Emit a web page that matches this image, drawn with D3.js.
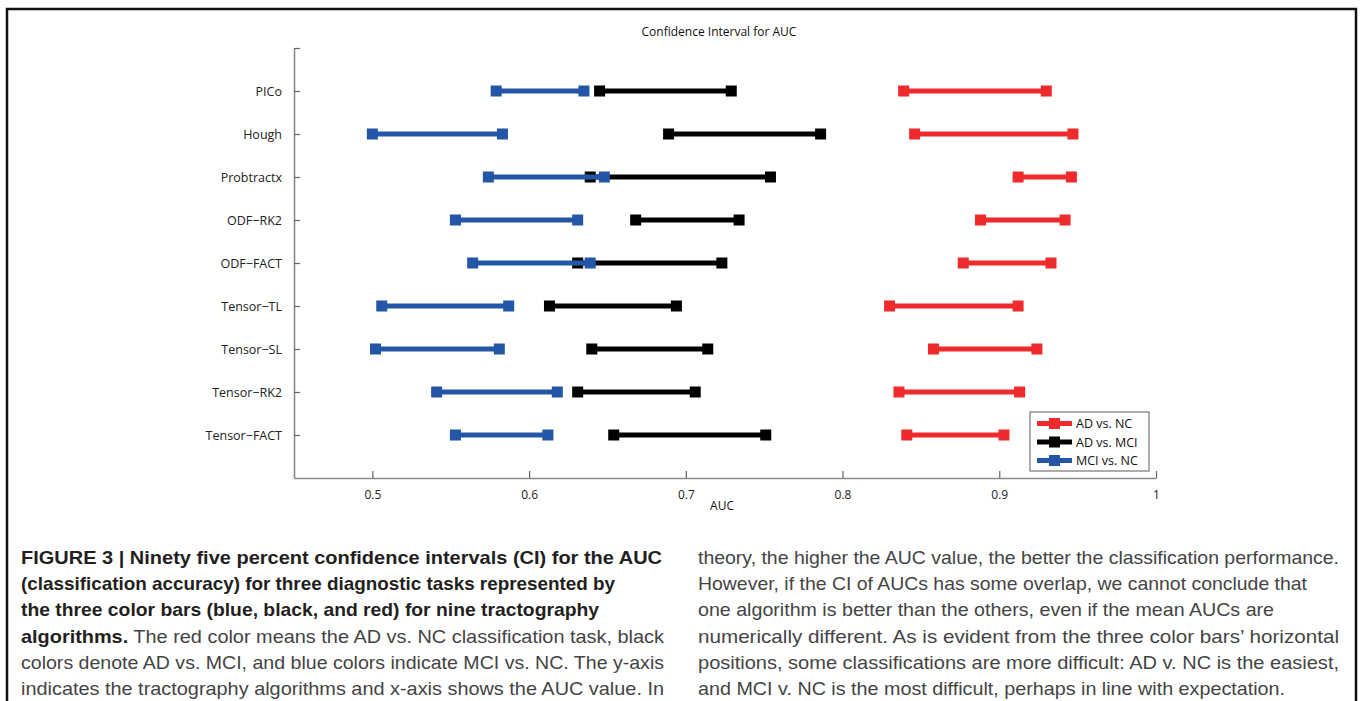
<!DOCTYPE html>
<html>
<head>
<meta charset="utf-8">
<script src="https://cdn.jsdelivr.net/npm/d3@7"></script>
<style>
  body { margin: 0; background: #fff; }
  svg { display: block; }
</style>
</head>
<body>
<div id="chart"></div>
<script>
// tractography algorithms, top to bottom
const algorithms = ["PICo", "Hough", "Probtractx", "ODF\u2212RK2", "ODF\u2212FACT",
  "Tensor\u2212TL", "Tensor\u2212SL", "Tensor\u2212RK2", "Tensor\u2212FACT"];

// 95% CI bounds of the AUC
const adNcLow   = [0.839, 0.846, 0.912, 0.888, 0.877, 0.830, 0.858, 0.836, 0.841];
const adNcHigh  = [0.930, 0.947, 0.946, 0.942, 0.933, 0.912, 0.924, 0.913, 0.903];
const adMciLow  = [0.645, 0.689, 0.639, 0.668, 0.631, 0.613, 0.640, 0.631, 0.654];
const adMciHigh = [0.729, 0.786, 0.754, 0.734, 0.723, 0.694, 0.714, 0.706, 0.751];
const mciNcLow  = [0.579, 0.500, 0.574, 0.553, 0.564, 0.506, 0.502, 0.541, 0.553];
const mciNcHigh = [0.635, 0.583, 0.648, 0.631, 0.639, 0.587, 0.581, 0.618, 0.612];

const xTicks = [0.5, 0.6, 0.7, 0.8, 0.9, 1];
const seriesNames = ["AD vs. NC", "AD vs. MCI", "MCI vs. NC"];
const seriesColors = ["#ee2a2c", "#000000", "#2356a6"];

const W = 1360, H = 701;
const svg = d3.select("#chart").append("svg")
    .attr("width", W)
    .attr("height", H);

// page frame
svg.append("rect")
    .attr("x", 7).attr("y", 9)
    .attr("width", 1349).attr("height", 760)
    .attr("fill", "none")
    .attr("stroke", "#111")
    .attr("stroke-width", 2.5);

const x = d3.scaleLinear().domain([0.45, 1]).range([294, 1156]);
const y = d3.scaleLinear().domain([0, 10]).range([48, 478]);

const axisFont = "'Open Sans', 'Noto Sans', sans-serif";

// x axis (ticks point inwards, matlab style)
const xAxis = svg.append("g")
    .attr("transform", `translate(0,${y(10)})`)
    .call(d3.axisBottom(x).tickValues(xTicks).tickSizeInner(-7).tickSizeOuter(0)
      .tickFormat(d => d === 1 ? "1" : d3.format(".1f")(d)));
xAxis.select(".domain").attr("stroke", "#8a8a8a").attr("stroke-width", 1.6);
xAxis.selectAll(".tick line").attr("stroke", "#666").attr("stroke-width", 1.2);
xAxis.selectAll(".tick text")
    .attr("y", 12)
    .attr("font-family", axisFont)
    .attr("font-size", 12)
    .attr("fill", "#222");

// y axis
const yAxis = svg.append("g")
    .attr("transform", `translate(${x(0.45)},0)`)
    .call(d3.axisLeft(y).tickValues(d3.range(0, 10)).tickSizeInner(-6).tickSizeOuter(0)
      .tickFormat(d => d === 0 ? "" : algorithms[d - 1]));
yAxis.select(".domain").attr("stroke", "#8a8a8a").attr("stroke-width", 1.6);
yAxis.selectAll(".tick line").attr("stroke", "#666").attr("stroke-width", 1.2);
yAxis.selectAll(".tick text")
    .attr("x", -12)
    .attr("font-family", axisFont)
    .attr("font-size", 12.5)
    .attr("fill", "#222");

// title and axis label
svg.append("text")
    .attr("x", 719).attr("y", 36)
    .attr("text-anchor", "middle")
    .attr("font-family", axisFont)
    .attr("font-size", 12)
    .attr("fill", "#111")
    .text("Confidence Interval for AUC");

svg.append("text")
    .attr("x", 722).attr("y", 510)
    .attr("text-anchor", "middle")
    .attr("font-family", axisFont)
    .attr("font-size", 12)
    .attr("fill", "#111")
    .text("AUC");

// intervals: red, then black, then blue on top
const series = [
  {lo: adNcLow, hi: adNcHigh},
  {lo: adMciLow, hi: adMciHigh},
  {lo: mciNcLow, hi: mciNcHigh}
];
const ms = 11;

series.forEach(function (s, si) {
  const g = svg.append("g");
  const rows = algorithms.map((a, i) => ({i: i + 1, lo: s.lo[i], hi: s.hi[i]}));
  g.selectAll("line")
    .data(rows)
    .join("line")
    .attr("x1", d => x(d.lo))
    .attr("x2", d => x(d.hi))
    .attr("y1", d => y(d.i))
    .attr("y2", d => y(d.i))
    .attr("stroke", seriesColors[si])
    .attr("stroke-width", 5);
  const ends = rows.flatMap(d => [{i: d.i, v: d.lo}, {i: d.i, v: d.hi}]);
  g.selectAll("rect")
    .data(ends)
    .join("rect")
    .attr("x", d => x(d.v) - ms / 2)
    .attr("y", d => y(d.i) - ms / 2)
    .attr("width", ms)
    .attr("height", ms)
    .attr("fill", seriesColors[si]);
});

// legend
const lg = svg.append("g").attr("transform", "translate(1030,412)");
lg.append("rect")
    .attr("width", 119).attr("height", 59)
    .attr("fill", "#fff")
    .attr("stroke", "#777")
    .attr("stroke-width", 1.2);
seriesNames.forEach(function (name, i) {
  const yy = 11.5 + i * 18.5;
  lg.append("line")
    .attr("x1", 7).attr("x2", 42)
    .attr("y1", yy).attr("y2", yy)
    .attr("stroke", seriesColors[i])
    .attr("stroke-width", 5);
  lg.append("rect")
    .attr("x", 24.5 - ms / 2).attr("y", yy - ms / 2)
    .attr("width", ms).attr("height", ms)
    .attr("fill", seriesColors[i]);
  lg.append("text")
    .attr("x", 46).attr("y", yy + 4.5)
    .attr("font-family", axisFont)
    .attr("font-size", 12.5)
    .attr("fill", "#111")
    .text(name);
});

// caption below the figure
const capFont = "'Liberation Sans', Arial, sans-serif";
const leftLines = [
  {bold: "FIGURE 3 | Ninety five percent confidence intervals (CI) for the AUC", rest: "", w: 641},
  {bold: "(classification accuracy) for three diagnostic tasks represented by", rest: "", w: 594},
  {bold: "the three color bars (blue, black, and red) for nine tractography", rest: "", w: 578},
  {bold: "algorithms.", rest: " The red color means the AD vs. NC classification task, black", w: 643},
  {bold: "", rest: "colors denote AD vs. MCI, and blue colors indicate MCI vs. NC. The y-axis", w: 643},
  {bold: "", rest: "indicates the tractography algorithms and x-axis shows the AUC value. In", w: 643}
];
const rightLines = [
  {text: "theory, the higher the AUC value, the better the classification performance.", w: 641},
  {text: "However, if the CI of AUCs has some overlap, we cannot conclude that", w: 609},
  {text: "one algorithm is better than the others, even if the mean AUCs are", w: 576},
  {text: "numerically different. As is evident from the three color bars\u2019 horizontal", w: 641},
  {text: "positions, some classifications are more difficult: AD v. NC is the easiest,", w: 641},
  {text: "and MCI v. NC is the most difficult, perhaps in line with expectation.", w: 587}
];

leftLines.forEach(function (l, i) {
  const t = svg.append("text")
      .attr("x", 21).attr("y", 564 + i * 26.2)
      .attr("font-family", capFont)
      .attr("font-size", 18.5)
      .attr("textLength", l.w)
      .attr("lengthAdjust", "spacingAndGlyphs");
  if (l.bold) t.append("tspan").attr("font-weight", "bold").attr("fill", "#231f20").text(l.bold);
  if (l.rest) t.append("tspan").attr("fill", "#444").text(l.rest);
});

rightLines.forEach(function (l, i) {
  svg.append("text")
      .attr("x", 698).attr("y", 564 + i * 26.2)
      .attr("font-family", capFont)
      .attr("font-size", 18.5)
      .attr("fill", "#444")
      .attr("textLength", l.w)
      .attr("lengthAdjust", "spacingAndGlyphs")
      .text(l.text);
});
</script>
</body>
</html>
